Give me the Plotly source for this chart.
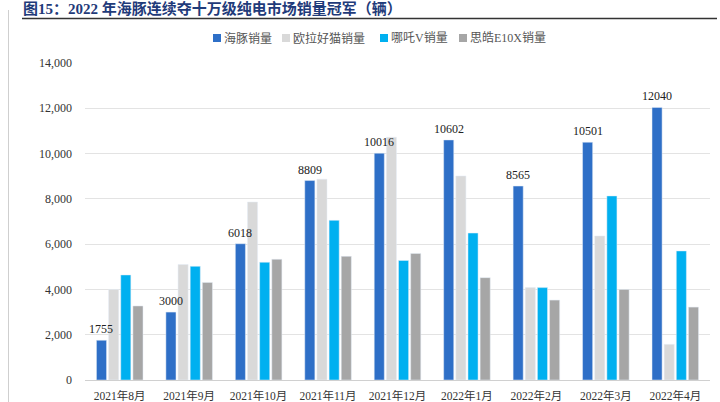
import plotly.graph_objects as go

# months on the x axis
months = ["2021年8月", "2021年9月", "2021年10月", "2021年11月", "2021年12月",
          "2022年1月", "2022年2月", "2022年3月", "2022年4月"]

# monthly sales (vehicles)
dolphin = [1755, 3000, 6018, 8809, 10016, 10602, 8565, 10501, 12040]
ora_cat = [4000, 5100, 7860, 8870, 10720, 9010, 4080, 6360, 1575]
neta_v = [4640, 5020, 5200, 7050, 5280, 6490, 4080, 8130, 5700]
sehol_e10x = [3270, 4310, 5330, 5460, 5590, 4520, 3530, 4000, 3220]

series_names = ["海豚销量", "欧拉好猫销量", "哪吒V销量", "思皓E10X销量"]
colors = ["#2E6FC7", "#D9D9D9", "#00B0F0", "#A6A6A6"]

yticks = [0, 2000, 4000, 6000, 8000, 10000, 12000, 14000]
ytick_text = ["0", "2,000", "4,000", "6,000", "8,000", "10,000", "12,000", "14,000"]

FONT = "Liberation Serif, Noto Sans CJK SC, serif"

W, H = 720, 402
ML, MR, MT, MB = 85, 10, 63, 22
BARGAP = 0.30
PLOT_W, PLOT_H = W - ML - MR, H - MT - MB


def px_x(px):
    # page pixel -> paper x
    return (px - ML) / PLOT_W


def px_y(py):
    # page pixel -> paper y
    return (H - MB - py) / PLOT_H


fig = go.Figure()

for name, vals, col in zip(series_names, [dolphin, ora_cat, neta_v, sehol_e10x], colors):
    fig.add_trace(go.Bar(x=months, y=vals, name=name, marker_color=col))

# value labels above the first (blue) bar of each group, drawn on top of all bars
cat_px = PLOT_W / len(months)
slot_px = cat_px * (1 - BARGAP) / 4
for m, v in zip(months, dolphin):
    fig.add_annotation(
        x=m, y=v, text=str(v), showarrow=False,
        xshift=-1.5 * slot_px, yshift=2, yanchor="bottom",
        font=dict(family=FONT, size=12, color="#222222"),
    )

# compact legend row: small square + label
legend_left = [213, 282, 380, 459]
for name, col, lx in zip(series_names, colors, legend_left):
    fig.add_shape(type="rect", xref="paper", yref="paper", line_width=0,
                  x0=px_x(lx), x1=px_x(lx + 8), y0=px_y(42), y1=px_y(34),
                  fillcolor=col)
    fig.add_annotation(
        xref="paper", yref="paper", x=px_x(lx + 9), y=px_y(38),
        xanchor="left", yanchor="middle", showarrow=False, text=name,
        font=dict(family=FONT, size=12, color="#555555"),
    )

fig.update_layout(
    width=W, height=H,
    margin=dict(l=ML, r=MR, t=MT, b=MB, autoexpand=False),
    paper_bgcolor="white", plot_bgcolor="white",
    barmode="group", bargap=BARGAP, bargroupgap=0.17,
    font=dict(family=FONT, size=11, color="#333333"),
    title=dict(
        text="<b>图15：2022 年海豚连续夺十万级纯电市场销量冠军（辆）</b>",
        xref="container", yref="container",
        x=0.032, xanchor="left", y=1 - 9 / H, yanchor="middle",
        font=dict(family=FONT, size=15, color="#1F3B7A"),
    ),
    showlegend=False,
)

fig.update_yaxes(
    range=[0, 14000], tickvals=yticks, ticktext=ytick_text,
    showgrid=True, gridcolor="#E3E3E3", gridwidth=1,
    zeroline=False, showline=False, ticks="", ticklabelstandoff=12,
    tickfont=dict(family=FONT, size=12, color="#333333"),
)
fig.update_xaxes(
    showline=True, linecolor="#D0D0D0", linewidth=1, ticks="", ticklabelstandoff=5,
    tickfont=dict(family=FONT, size=11.5, color="#333333"),
)

# underline beneath the title and the left border of the figure frame
fig.add_shape(type="line", xref="paper", yref="paper", layer="above",
              x0=px_x(22), x1=px_x(717), y0=px_y(18.5), y1=px_y(18.5),
              line=dict(color="#333333", width=1.5))
fig.add_shape(type="line", xref="paper", yref="paper",
              x0=px_x(8.5), x1=px_x(8.5), y0=px_y(10), y1=px_y(402),
              line=dict(color="#CFCFCF", width=1))

fig.write_html("out.html", config={"displayModeBar": False},
               post_script="document.body.style.margin='0';")
